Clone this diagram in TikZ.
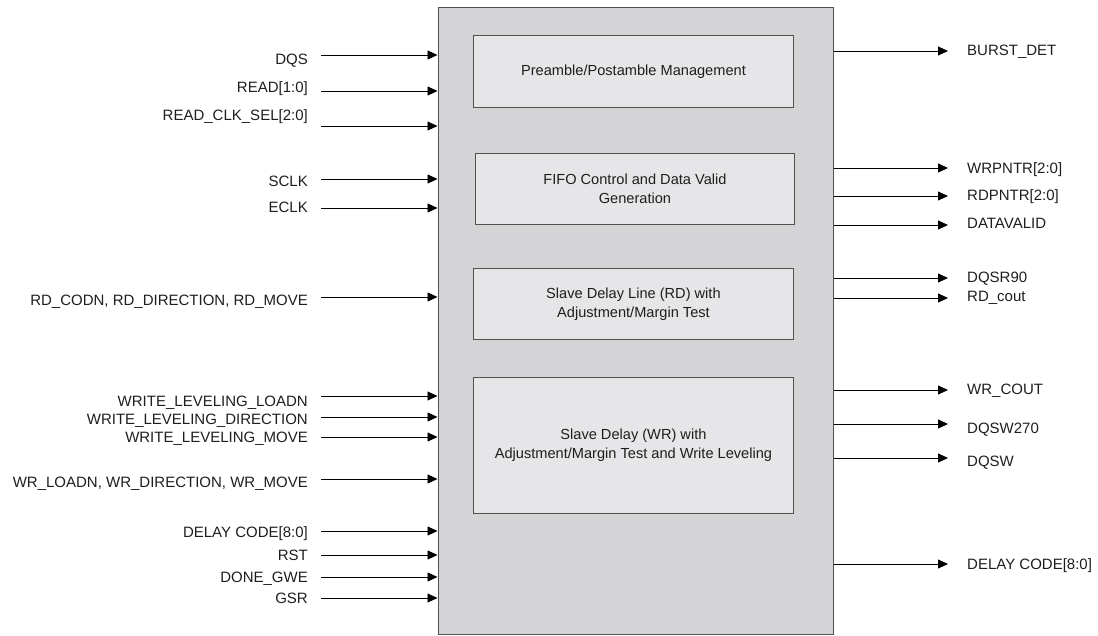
\documentclass[tikz,border=0pt]{standalone}
\usepackage{fontspec}
\setmainfont{Liberation Sans}
\usetikzlibrary{arrows.meta}
\definecolor{outerfill}{HTML}{D4D4D6}
\definecolor{innerfill}{HTML}{E6E6E8}
\definecolor{edge}{HTML}{505050}
\definecolor{txt}{HTML}{1E1E1E}
\tikzset{
  outerbox/.style={draw=edge, line width=1pt, fill=outerfill, inner sep=0, anchor=north west},
  innerbox/.style={draw=edge, line width=0.9pt, fill=innerfill, inner sep=0, anchor=north west, align=center, text=txt, font=\fontsize{14.6}{19}\selectfont},
  sig/.style={-{Triangle[length=10pt,width=9pt]}, line width=0.8pt, black},
  inlabel/.style={anchor=base east, inner sep=0, text=txt, font=\fontsize{15}{18}\selectfont},
  outlabel/.style={anchor=base west, inner sep=0, text=txt, font=\fontsize{15}{18}\selectfont},
}
\begin{document}
\begin{tikzpicture}[x=1pt,y=-1pt]
\useasboundingbox (0,0) rectangle (1098,636);
\node[outerbox, minimum width=395pt, minimum height=627pt] (main) at (437.5,7) {};
\node[innerbox, minimum width=320pt, minimum height=72pt] (pre) at (473,35) {Preamble/Postamble Management};
\node[innerbox, minimum width=319pt, minimum height=71pt] (fifo) at (475,153) {FIFO Control and Data Valid\\Generation};
\node[innerbox, minimum width=320pt, minimum height=71pt] (rd) at (473,268) {Slave Delay Line (RD) with\\Adjustment/Margin Test};
\node[innerbox, minimum width=320pt, minimum height=136pt] (wr) at (473,377) {Slave Delay (WR) with\\Adjustment/Margin Test and Write Leveling};

% inputs
\foreach \n/\ly/\ty/\t in {
  dqs/55/65/DQS,
  read/91/93/{READ[1:0]},
  rcs/126/121/{READ\_CLK\_SEL[2:0]},
  sclk/179/187/SCLK,
  eclk/208/213/ECLK,
  rdc/297/306/{RD\_CODN, RD\_DIRECTION, RD\_MOVE},
  wll/396/406/{WRITE\_LEVELING\_LOADN},
  wld/417/424/{WRITE\_LEVELING\_DIRECTION},
  wlm/437/442/{WRITE\_LEVELING\_MOVE},
  wrl/479/487/{WR\_LOADN, WR\_DIRECTION, WR\_MOVE},
  dci/531/537/{DELAY CODE[8:0]},
  rst/555/560/RST,
  dgwe/577/582/{DONE\_GWE},
  gsr/598/603/GSR}
{
  \node[inlabel] (l\n) at (308,\ty) {\t};
  \coordinate (s\n) at (321,\ly);
  \draw[sig] (s\n) -- (s\n -| main.west);
}

% outputs
\foreach \n/\ly/\ty/\t in {
  burst/51/56/{BURST\_DET},
  wrp/168/174/{WRPNTR[2:0]},
  rdp/196/201/{RDPNTR[2:0]},
  dv/225/229/DATAVALID,
  dqsr/278/283/DQSR90,
  rdcout/298/302/{RD\_cout},
  wrcout/390/395/{WR\_COUT},
  dqsw270/424/433/DQSW270,
  dqsw/458/466/DQSW,
  dco/564/569/{DELAY CODE[8:0]}}
{
  \coordinate (e\n) at (948,\ly);
  \draw[sig] (e\n -| main.east) -- (e\n);
  \node[outlabel] (o\n) at (967,\ty) {\t};
}
\end{tikzpicture}
\end{document}
